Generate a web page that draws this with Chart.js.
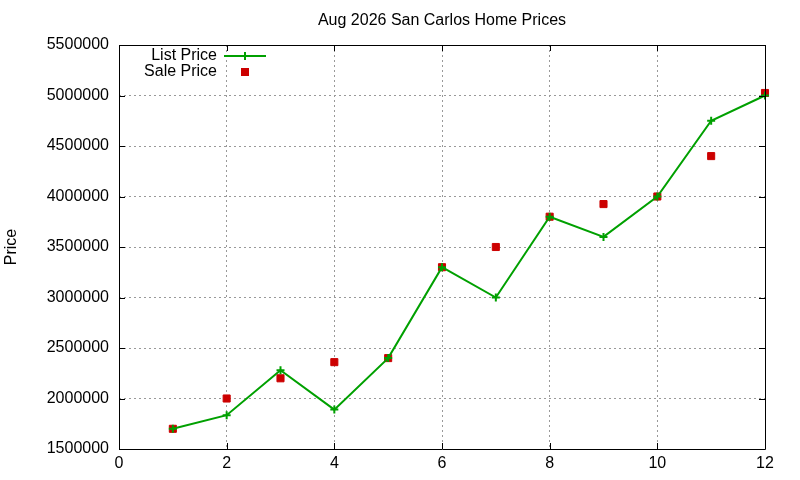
<!DOCTYPE html>
<html>
<head>
<meta charset="utf-8">
<script src="https://cdn.jsdelivr.net/npm/chart.js@4"></script>
<style>
  body { margin: 0; background: #fff; }
  canvas { display: block; }
</style>
</head>
<body>
<canvas id="priceChart" width="800" height="480"></canvas>
<script>
// month of the year, prices
const months = [1, 2, 3, 4, 5, 6, 7, 8, 9, 10, 11, 12];
const listPrice = [1700000, 1835000, 2280000, 1890000, 2400000, 3300000, 3000000, 3800000, 3600000, 4000000, 4750000, 5000000];
const salePrice = [1700000, 2000000, 2200000, 2360000, 2400000, 3300000, 3500000, 3800000, 3925000, 4000000, 4400000, 5025000];
const chartTitle = "Aug 2026 San Carlos Home Prices";
const seriesNames = ["List Price", "Sale Price"];

const green = "#00a000";
const red = "#cc0000";
const font = "16px 'Liberation Sans', Arial, sans-serif";

function drawPlus(ctx, x, y, r) {
  ctx.beginPath();
  ctx.moveTo(x - r, y); ctx.lineTo(x + r, y);
  ctx.moveTo(x, y - r); ctx.lineTo(x, y + r);
  ctx.stroke();
}

// gnuplot-like frame: border box, inward ticks on all sides, title and key
const framePlugin = {
  id: "frame",
  afterDraw(chart) {
    const ctx = chart.ctx;
    const a = chart.chartArea;
    const xs = chart.scales.x, ys = chart.scales.y;
    ctx.save();
    ctx.strokeStyle = "#000";
    ctx.lineWidth = 1;
    ctx.beginPath();
    ctx.rect(Math.round(a.left) + 0.5, Math.round(a.top) + 0.5, Math.round(a.right - a.left), Math.round(a.bottom - a.top));
    ctx.stroke();
    ctx.beginPath();
    xs.ticks.forEach(t => {
      const px = Math.round(xs.getPixelForValue(t.value)) + 0.5;
      ctx.moveTo(px, a.bottom); ctx.lineTo(px, a.bottom - 6);
      ctx.moveTo(px, a.top); ctx.lineTo(px, a.top + 6);
    });
    ys.ticks.forEach(t => {
      const py = Math.round(ys.getPixelForValue(t.value)) + 0.5;
      ctx.moveTo(a.left, py); ctx.lineTo(a.left + 6, py);
      ctx.moveTo(a.right, py); ctx.lineTo(a.right - 6, py);
    });
    ctx.stroke();

    // title
    ctx.fillStyle = "#000";
    ctx.font = font;
    ctx.textAlign = "center";
    ctx.textBaseline = "middle";
    ctx.fillText(chartTitle, (a.left + a.right) / 2, 21);

    // key
    const kx = a.left + 98, ky = a.top + 11;
    ctx.textAlign = "right";
    ctx.fillText(seriesNames[0], kx, ky);
    ctx.fillText(seriesNames[1], kx, ky + 16);
    ctx.strokeStyle = green;
    ctx.lineWidth = 2;
    ctx.beginPath();
    ctx.moveTo(kx + 7, ky); ctx.lineTo(kx + 49, ky);
    ctx.stroke();
    drawPlus(ctx, kx + 28, ky, 4);
    ctx.fillStyle = red;
    ctx.fillRect(kx + 24, ky + 12, 8, 8);
    ctx.restore();
  }
};

const ctx = document.getElementById("priceChart").getContext("2d");
new Chart(ctx, {
  type: "line",
  data: {
    datasets: [{
      label: seriesNames[0],
      data: months.map((m, i) => ({ x: m, y: listPrice[i] })),
      borderColor: green,
      backgroundColor: green,
      borderWidth: 2,
      pointStyle: "cross",
      pointRadius: 4,
      pointBorderWidth: 2,
      tension: 0,
      clip: false
    }, {
      label: seriesNames[1],
      data: months.map((m, i) => ({ x: m, y: salePrice[i] })),
      showLine: false,
      borderColor: red,
      backgroundColor: red,
      pointStyle: "rect",
      pointRadius: 5,
      pointBorderWidth: 1,
      clip: false
    }]
  },
  options: {
    responsive: false,
    animation: false,
    devicePixelRatio: 1,
    layout: { padding: { top: 45, right: 35, left: 0, bottom: 0 } },
    plugins: {
      legend: { display: false },
      title: { display: false },
      tooltip: { enabled: false }
    },
    scales: {
      x: {
        type: "linear",
        min: 0, max: 12,
        afterFit: s => { s.height = 31; },
        ticks: {
          stepSize: 2,
          color: "#000",
          padding: 5,
          font: { family: "'Liberation Sans', Arial, sans-serif", size: 16 },
          maxRotation: 0
        },
        grid: { color: "#999", drawTicks: false, lineWidth: 1 },
        border: { display: false, dash: [2, 3] }
      },
      y: {
        type: "linear",
        min: 1500000, max: 5500000,
        afterFit: s => { s.width = 119; },
        ticks: {
          stepSize: 500000,
          color: "#000",
          padding: 10,
          font: { family: "'Liberation Sans', Arial, sans-serif", size: 16 },
          callback: v => String(v)
        },
        title: {
          display: true,
          text: "Price",
          color: "#000",
          padding: { top: 2, bottom: 0 },
          font: { family: "'Liberation Sans', Arial, sans-serif", size: 16 }
        },
        grid: { color: "#999", drawTicks: false, lineWidth: 1 },
        border: { display: false, dash: [2, 3] }
      }
    }
  },
  plugins: [framePlugin]
});
</script>
</body>
</html>
